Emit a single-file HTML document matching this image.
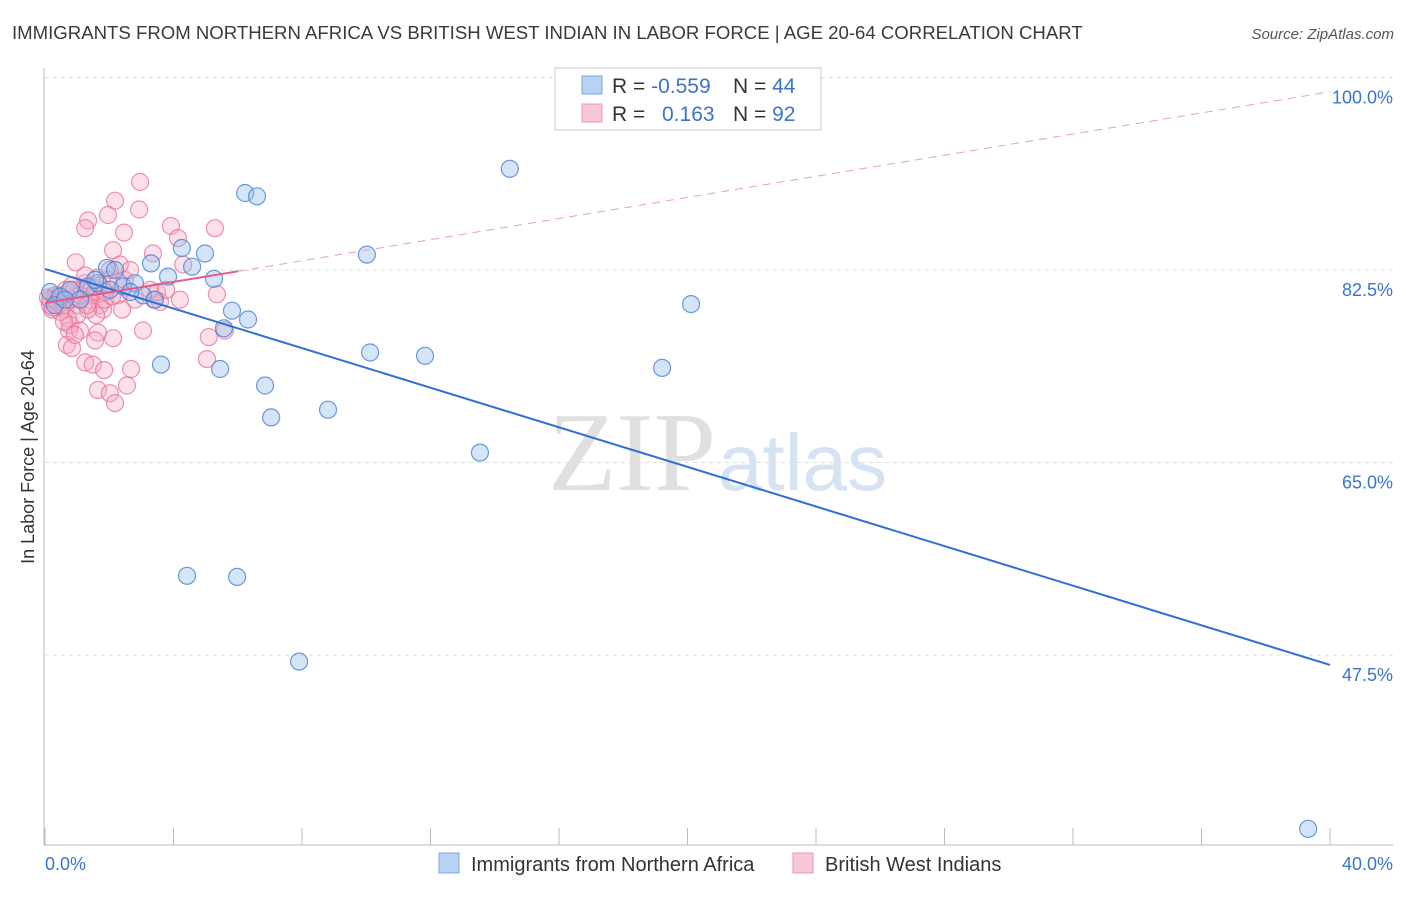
<!DOCTYPE html>
<html><head><meta charset="utf-8"><style>
body{margin:0;background:#fff;width:1406px;height:892px;overflow:hidden;font-family:"Liberation Sans",sans-serif}
</style></head><body>
<svg id="chart" width="1406" height="892" xmlns="http://www.w3.org/2000/svg" font-family="Liberation Sans, sans-serif">
<text x="12" y="39" font-size="18.6" fill="#3a3a3a">IMMIGRANTS FROM NORTHERN AFRICA VS BRITISH WEST INDIAN IN LABOR FORCE | AGE 20-64 CORRELATION CHART</text>
<text x="1394" y="39" font-size="15" fill="#555" text-anchor="end" font-style="italic">Source: ZipAtlas.com</text>
<text transform="translate(34,457) rotate(-90)" font-size="18" fill="#333" text-anchor="middle">In Labor Force | Age 20-64</text>
<g id="grid"></g>
<text x="716" y="490" font-size="112" fill="#e0e0e0" text-anchor="end" font-family="Liberation Serif, serif">ZIP</text>
<text x="718" y="490" font-size="80" fill="#d5e3f3">atlas</text>
<g id="marks"></g>
<g>
<rect x="555" y="68" width="266" height="62" fill="#fff" stroke="#ccc"/>
<rect x="582" y="76" width="20" height="18" fill="#b8d2f3" stroke="#7aa8e0"/>
<rect x="582" y="104" width="20" height="18" fill="#f9c8d6" stroke="#ec95b0"/>
<text x="612" y="93" font-size="21" fill="#333">R = <tspan fill="#3a74d0">-0.559</tspan><tspan x="733">N = </tspan><tspan fill="#3a74d0">44</tspan></text>
<text x="612" y="121" font-size="21" fill="#333">R = <tspan x="662" fill="#3a74d0">0.163</tspan><tspan x="733">N = </tspan><tspan fill="#3a74d0">92</tspan></text>
</g>
<g>
<rect x="439" y="853" width="20" height="20" fill="#b8d2f3" stroke="#7aa8e0"/>
<text x="471" y="871" font-size="20" fill="#333">Immigrants from Northern Africa</text>
<rect x="793" y="853" width="20" height="20" fill="#f9c8d6" stroke="#ec95b0"/>
<text x="825" y="871" font-size="20" fill="#333">British West Indians</text>
</g>
</svg>
<script>
const yTicks=[100,82.5,65,47.5];
const xTickVals=[0,4,8,12,16,20,24,28,32,36,40];
const blueX=[14.47,6.23,6.6,10.02,4.26,4.98,4.58,3.3,1.93,3.83,5.26,2.43,2.8,3.05,3.42,20.11,5.82,6.32,5.57,10.12,11.83,3.61,5.45,19.21,6.85,7.04,8.81,13.54,4.42,5.98,7.91,39.32,0.16,0.47,0.78,1.34,1.65,2.02,1.09,0.31,0.62,2.18,1.56,2.65];
const blueY=[91.7,89.5,89.2,83.9,84.5,84.0,82.8,83.1,82.7,81.9,81.7,81.0,81.3,80.2,79.8,79.4,78.8,78.0,77.2,75.0,74.7,73.9,73.5,73.6,72.0,69.1,69.8,65.9,54.7,54.6,46.9,31.7,80.5,80.1,80.7,81.0,81.3,80.7,79.8,79.3,79.8,82.5,81.6,80.5];
const pinkX=[2.96,2.18,1.96,1.34,1.25,2.93,3.92,5.29,2.46,2.12,3.36,4.14,4.3,0.96,2.33,2.02,1.62,1.25,2.8,3.39,3.58,5.35,5.6,5.1,5.04,3.05,2.12,1.65,0.75,0.68,0.84,1.25,1.49,1.84,2.68,2.55,1.65,2.02,2.18,0.47,0.53,0.31,0.22,0.16,0.09,0.4,0.62,0.78,0.93,1.03,1.15,1.4,1.46,1.71,1.81,1.59,1.87,2.09,2.27,2.4,1.34,1.0,0.72,0.47,0.31,0.16,0.65,0.84,1.25,1.46,1.71,1.09,0.37,0.53,0.25,0.9,1.31,1.56,1.87,1.96,2.49,2.65,2.27,0.78,1.09,1.56,0.59,0.93,3.27,3.49,3.77,4.2];
const pinkY=[90.5,88.8,87.5,87.0,86.3,88.0,86.5,86.3,85.9,84.3,84.0,85.4,83.0,83.2,83.0,82.5,81.8,81.3,79.8,79.8,79.6,80.3,77.0,76.4,74.4,77.0,76.3,76.8,77.0,75.7,75.4,74.1,73.9,73.4,73.5,72.0,71.6,71.3,70.4,79.8,79.2,79.8,78.9,79.3,80.0,80.2,78.9,79.8,80.1,79.3,80.7,79.8,80.2,79.3,78.9,78.4,79.8,80.1,80.2,78.9,78.9,78.4,78.1,78.7,80.2,79.8,80.7,81.1,82.0,80.9,81.1,80.2,79.6,80.0,79.1,80.7,79.3,80.5,80.5,81.6,81.6,82.5,81.4,77.5,77.0,76.1,77.8,76.6,80.7,80.5,80.7,79.8];
const blueTrend=[82.6,-0.9];
const pinkTrend=[79.5,0.48];
const pinkSolidEnd=6;
const NS="http://www.w3.org/2000/svg";
const sx=v=>45+v*32.125, sy=v=>77.5+(100-v)*11;
function mk(tag,attrs,parent){const e=document.createElementNS(NS,tag);for(const k in attrs)e.setAttribute(k,attrs[k]);parent.appendChild(e);return e;}
const grid=document.getElementById('grid'), marks=document.getElementById('marks');
yTicks.forEach(v=>{
 const l=mk('line',{x1:45,x2:1393,y1:sy(v),y2:sy(v),stroke:'#ddd','stroke-dasharray':'4,4'},grid);
 
 
 const t=mk('text',{x:1393,y:sy(v)+26,'font-size':18,fill:'#3a74d0','text-anchor':'end'},grid);
 t.textContent=v.toFixed(1)+'%';
 
 
});
const ax=mk('line',{x1:44,x2:44,y1:68,y2:845,stroke:'#bbb'},grid);


const bx=mk('line',{x1:44,x2:1393,y1:845,y2:845,stroke:'#bbb'},grid);


xTickVals.forEach(v=>{
 const t=mk('line',{x1:sx(v),x2:sx(v),y1:828,y2:845,stroke:'#bbb'},grid);
 
 
});
[[0,'0.0%',45,'start'],[40,'40.0%',1393,'end']].forEach(a=>{
 const t=mk('text',{x:a[2],y:870,'font-size':18,fill:'#3a74d0','text-anchor':a[3]},grid);
 t.textContent=a[1];
 
 
});
pinkX.forEach((x,i)=>{
 const c=mk('circle',{cx:sx(x),cy:sy(pinkY[i]),r:8.5,fill:'rgba(246,170,195,0.35)',stroke:'rgba(232,110,150,0.75)','stroke-width':1.2},marks);
 
 
});
blueX.forEach((x,i)=>{
 const c=mk('circle',{cx:sx(x),cy:sy(blueY[i]),r:8.5,fill:'rgba(150,190,238,0.4)',stroke:'rgba(70,130,210,0.8)','stroke-width':1.2},marks);
 
 
});
const bl=mk('line',{x1:sx(0),y1:sy(blueTrend[0]),x2:sx(40),y2:sy(blueTrend[0]+40*blueTrend[1]),stroke:'#2f6fd6','stroke-width':2},marks);


const pl=mk('line',{x1:sx(0),y1:sy(pinkTrend[0]),x2:sx(pinkSolidEnd),y2:sy(pinkTrend[0]+pinkSolidEnd*pinkTrend[1]),stroke:'#e8578a','stroke-width':2},marks);


const pd=mk('line',{x1:sx(pinkSolidEnd),y1:sy(pinkTrend[0]+pinkSolidEnd*pinkTrend[1]),x2:sx(40),y2:sy(pinkTrend[0]+40*pinkTrend[1]),stroke:'#e8a0b8','stroke-width':1,'stroke-dasharray':'8,6'},marks);


</script>
</body></html>
